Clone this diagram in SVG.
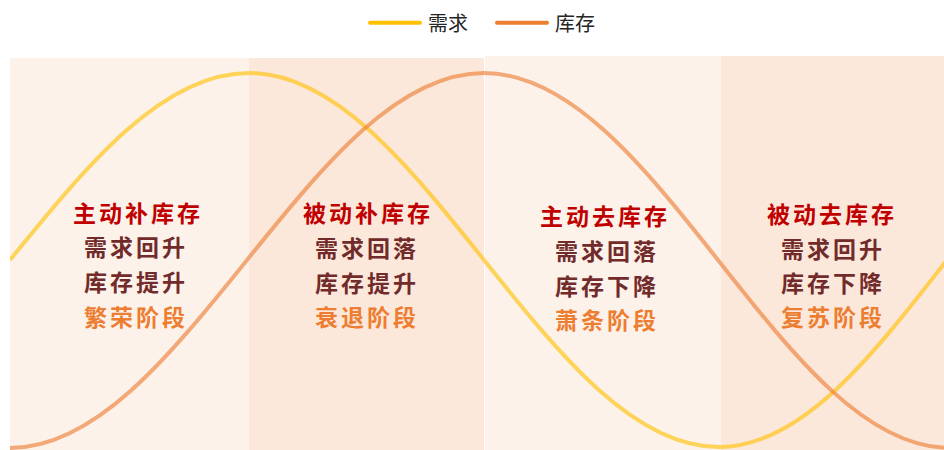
<svg xmlns="http://www.w3.org/2000/svg" width="944" height="450" viewBox="0 0 944 450">
<style>
.pl{fill:#FDF2EA}
.pd{fill:#FCE8DB}
.t{font-family:"Noto Sans CJK SC","Noto Sans",sans-serif;font-size:23px;font-weight:700;text-anchor:middle;letter-spacing:3px}
.r1{fill:#C00000}
.r2{fill:#722B2B}
.r4{fill:#ED7D31}
.lg{font-family:"Noto Sans CJK SC","Noto Sans",sans-serif;font-size:20px;fill:#262626}
.cv{fill:none;stroke-width:4;stroke-linecap:butt}
</style>
<defs>
<clipPath id="clip"><rect x="10" y="50" width="934" height="400"/></clipPath>
</defs>
<rect width="944" height="450" fill="#FFFFFF"/>
<g id="panels">
<rect class="pl" x="10" y="58" width="239" height="392"/>
<rect class="pd" x="249" y="58" width="235" height="392"/>
<rect class="pl" x="485" y="56" width="236" height="394"/>
<rect class="pd" x="721" y="56" width="223" height="394"/>
</g>
<g id="connectors" clip-path="url(#clip)">
<path id="demand" class="cv" stroke="#FFC000" stroke-opacity="0.62" d="M10,260 C87.9,164.2 162.5,73 249,73 C334.1,73 407.4,164.2 484,260 C560.6,355.8 633.9,447 719,447 C801.5,447 872.7,355.8 947,260"/>
<path id="inventory" class="cv" stroke="#ED7D31" stroke-opacity="0.62" d="M10,448 C95.8,448 169.7,355.8 247,260 C324.3,164.2 398.2,73 484,73 C568.7,73 642.4,164.2 718,260 C793.6,355.8 866,448 950,448"/>
</g>
<g id="legend">
<line x1="370" y1="22.7" x2="420" y2="22.7" stroke="#FFC000" stroke-width="4" stroke-linecap="round"/>
<text class="lg" x="428" y="30.5">需求</text>
<line x1="497" y1="22.7" x2="547" y2="22.7" stroke="#ED7D31" stroke-width="4" stroke-linecap="round"/>
<text class="lg" x="555" y="30.5">库存</text>
</g>
<g id="stage1">
<text class="t r1" x="138" y="222">主动补库存</text>
<text class="t r2" x="136" y="256">需求回升</text>
<text class="t r2" x="136" y="291">库存提升</text>
<text class="t r4" x="136" y="326">繁荣阶段</text>
</g>
<g id="stage2">
<text class="t r1" x="368" y="222">被动补库存</text>
<text class="t r2" x="367" y="257">需求回落</text>
<text class="t r2" x="367" y="292">库存提升</text>
<text class="t r4" x="367" y="326">衰退阶段</text>
</g>
<g id="stage3">
<text class="t r1" x="605" y="225">主动去库存</text>
<text class="t r2" x="607" y="260">需求回落</text>
<text class="t r2" x="607" y="295">库存下降</text>
<text class="t r4" x="607" y="329">萧条阶段</text>
</g>
<g id="stage4">
<text class="t r1" x="832" y="223">被动去库存</text>
<text class="t r2" x="833" y="258">需求回升</text>
<text class="t r2" x="833" y="292">库存下降</text>
<text class="t r4" x="833" y="326">复苏阶段</text>
</g>
</svg>
